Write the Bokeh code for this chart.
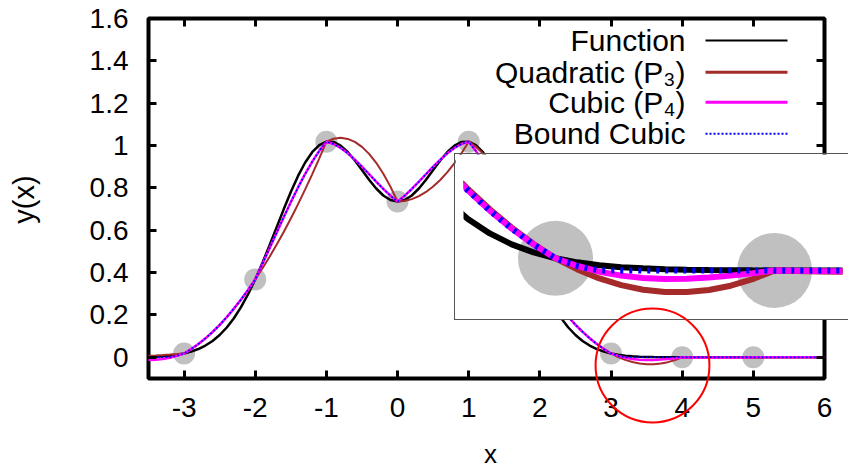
from math import pi
from bokeh.plotting import figure
from bokeh.models import Range1d, FixedTicker, LinearAxis, Label, Arrow, ColumnDataSource
from bokeh.embed import file_html
from bokeh.resources import INLINE

# ---------------- data ----------------
x_values = [-3.6, -3.5, -3.4, -3.3, -3.2, -3.1,
            -3.0, -2.9, -2.8, -2.7, -2.6, -2.5, -2.4, -2.3, -2.2, -2.1,
            -2.0, -1.9, -1.8, -1.7, -1.6, -1.5, -1.4, -1.3, -1.2, -1.1,
            -1.0, -0.9, -0.8, -0.7, -0.6, -0.5, -0.4, -0.3, -0.2, -0.1,
            0.0, 0.1, 0.2, 0.3, 0.4, 0.5, 0.6, 0.7, 0.8, 0.9,
            1.0, 1.1, 1.2, 1.3, 1.4, 1.5, 1.6, 1.7, 1.8, 1.9,
            2.0, 2.1, 2.2, 2.3, 2.4, 2.5, 2.6, 2.7, 2.8, 2.9,
            3.0, 3.1, 3.2, 3.3, 3.4, 3.5, 3.6, 3.7, 3.8, 3.9,
            4.0, 4.1, 4.2, 4.3, 4.4, 4.5, 4.6, 4.7, 4.8, 4.9,
            5.0, 6.0]

y_function = [0.0012, 0.0019, 0.0032, 0.0050, 0.0079, 0.0122,
              0.0183, 0.0271, 0.0392, 0.0556, 0.0773, 0.1054, 0.1409, 0.1845, 0.2370, 0.2983,
              0.3680, 0.4451, 0.5277, 0.6133, 0.6988, 0.7807, 0.8553, 0.9190, 0.9687, 1.0022,
              1.0183, 1.0171, 1.0000, 0.9695, 0.9294, 0.8842, 0.8385, 0.7972, 0.7642, 0.7431,
              0.7358, 0.7431, 0.7642, 0.7972, 0.8385, 0.8842, 0.9294, 0.9695, 1.0000, 1.0171,
              1.0183, 1.0022, 0.9687, 0.9190, 0.8553, 0.7807, 0.6988, 0.6133, 0.5277, 0.4451,
              0.3680, 0.2983, 0.2370, 0.1845, 0.1409, 0.1054, 0.0773, 0.0556, 0.0392, 0.0271,
              0.0183, 0.0122, 0.0079, 0.0050, 0.0032, 0.0019, 0.0012, 0.0007, 0.0004, 0.0002,
              0.0001, 0.0001, 0.0, 0.0, 0.0, 0.0, 0.0, 0.0, 0.0, 0.0,
              0.0, 0.0]

y_quadratic = [0.0052, 0.0069, 0.0088, 0.0109, 0.0132, 0.0157,
               0.0183, 0.0384, 0.0617, 0.0884, 0.1184, 0.1517, 0.1883, 0.2283, 0.2715, 0.3181,
               0.3680, 0.4195, 0.4740, 0.5315, 0.5921, 0.6556, 0.7221, 0.7917, 0.8642, 0.9397,
               1.0183, 1.0320, 1.0364, 1.0315, 1.0172, 0.9937, 0.9607, 0.9185, 0.8669, 0.8060,
               0.7358, 0.7386, 0.7471, 0.7612, 0.7810, 0.8064, 0.8375, 0.8742, 0.9166, 0.9646,
               1.0183, 0.9953, 0.9629, 0.9212, 0.8701, 0.8098, 0.7401, 0.6610, 0.5727, 0.4750,
               0.3680, 0.3195, 0.2740, 0.2315, 0.1921, 0.1556, 0.1221, 0.0917, 0.0642, 0.0397,
               0.0183, 0.0016, -0.0119, -0.0220, -0.0288, -0.0322, -0.0324, -0.0293, -0.0228, -0.0130,
               0.0001, -0.0007, -0.0014, -0.0018, -0.0021, -0.0022, -0.0021, -0.0019, -0.0014, -0.0008,
               0.0, 0.0]

y_cubic = [-0.0123, -0.0127, -0.0112, -0.0077, -0.0018, 0.0067,
           0.0183, 0.0389, 0.0627, 0.0898, 0.1201, 0.1536, 0.1903, 0.2301, 0.2730, 0.3190,
           0.3680, 0.4399, 0.5135, 0.5877, 0.6611, 0.7327, 0.8011, 0.8650, 0.9234, 0.9749,
           1.0183, 1.0073, 0.9885, 0.9633, 0.9334, 0.9000, 0.8649, 0.8294, 0.7950, 0.7633,
           0.7358, 0.7633, 0.7950, 0.8294, 0.8649, 0.9000, 0.9334, 0.9633, 0.9885, 1.0073,
           1.0183, 0.9749, 0.9234, 0.8650, 0.8011, 0.7327, 0.6611, 0.5877, 0.5135, 0.4399,
           0.3680, 0.3190, 0.2730, 0.2301, 0.1903, 0.1536, 0.1201, 0.0898, 0.0627, 0.0389,
           0.0183, 0.0067, -0.0018, -0.0077, -0.0112, -0.0127, -0.0123, -0.0106, -0.0077, -0.0041,
           0.0001, -0.0004, -0.0008, -0.0010, -0.0011, -0.0011, -0.0010, -0.0008, -0.0006, -0.0003,
           0.0, 0.0]

y_bound = [0.0001, 0.0001, 0.0001, 0.0001, 0.0001, 0.0067,
           0.0183, 0.0389, 0.0627, 0.0898, 0.1201, 0.1536, 0.1903, 0.2301, 0.2730, 0.3190,
           0.3680, 0.4399, 0.5135, 0.5877, 0.6611, 0.7327, 0.8011, 0.8650, 0.9234, 0.9749,
           1.0183, 1.0073, 0.9885, 0.9633, 0.9334, 0.9000, 0.8649, 0.8294, 0.7950, 0.7633,
           0.7358, 0.7633, 0.7950, 0.8294, 0.8649, 0.9000, 0.9334, 0.9633, 0.9885, 1.0073,
           1.0183, 0.9749, 0.9234, 0.8650, 0.8011, 0.7327, 0.6611, 0.5877, 0.5135, 0.4399,
           0.3680, 0.3190, 0.2730, 0.2301, 0.1903, 0.1536, 0.1201, 0.0898, 0.0627, 0.0389,
           0.0183, 0.0067, 0.0001, 0.0001, 0.0001, 0.0001, 0.0001, 0.0001, 0.0001, 0.0001,
           0.0001, 0.0, 0.0, 0.0, 0.0, 0.0, 0.0, 0.0, 0.0, 0.0,
           0.0, 0.0]

node_x = [-3, -2, -1, 0, 1, 2, 3, 4, 5]
node_y = [0.0183, 0.3680, 1.0183, 0.7358, 1.0183, 0.3680, 0.0183, 0.0001, 0.0]

x_ticks = [-3, -2, -1, 0, 1, 2, 3, 4, 5, 6]
x_tick_labels = ["-3", "-2", "-1", "0", "1", "2", "3", "4", "5", "6"]
y_ticks = [0, 0.2, 0.4, 0.6, 0.8, 1, 1.2, 1.4, 1.6]
y_tick_labels = ["0", "0.2", "0.4", "0.6", "0.8", "1", "1.2", "1.4", "1.6"]

series_labels = ["Function", "Quadratic (P\u2083)", "Cubic (P\u2084)", "Bound Cubic"]

# ---------------- styling / layout constants ----------------
FONT = "Liberation Sans"
W, H = 849, 468
FL, FR, FT, FB = 148, 824, 18, 378          # main frame edges (px)
X0, X1, Y0, Y1 = -3.5, 6.0, -0.1, 1.6


def px2x(px):
    return X0 + (px - FL) * (X1 - X0) / (FR - FL)


def py2y(py):
    return Y0 + (FB - py) * (Y1 - Y0) / (FB - FT)


GRAY = "#c0c0c0"
colors = ["#000000", "#a52a2a", "#ff00ff", "#0000ff"]
main_widths = [2.5, 2.0, 2.5, 1.5]
main_dash = ["solid", "solid", "solid", "2 2"]
inset_widths = [6, 6, 6, 6]
inset_dash = ["solid", "solid", "solid", "3 6"]
legend_widths = [2, 3, 3, 2]
cols = ["f", "q", "c", "b"]

src = ColumnDataSource(dict(x=x_values, f=y_function, q=y_quadratic, c=y_cubic, b=y_bound))

# ---------------- main figure ----------------
p = figure(width=W, height=H, x_range=Range1d(X0, X1), y_range=Range1d(Y0, Y1),
           output_backend="svg", toolbar_location=None,
           min_border_left=FL, min_border_right=W - FR,
           min_border_top=FT, min_border_bottom=H - FB,
           background_fill_color="white", border_fill_color="white",
           outline_line_color="black", outline_line_width=4)
p.grid.visible = False

xa = p.xaxis[0]
ya = p.yaxis[0]
xa.ticker = FixedTicker(ticks=x_ticks)
xa.major_label_overrides = dict(zip(x_ticks, x_tick_labels))
ya.ticker = FixedTicker(ticks=y_ticks)
ya.major_label_overrides = dict(zip(y_ticks, y_tick_labels))
for ax in (xa, ya):
    ax.axis_line_color = None
    ax.major_tick_in = 8
    ax.major_tick_out = 0
    ax.major_tick_line_width = 3
    ax.major_tick_line_color = "black"
    ax.minor_tick_line_color = None
    ax.major_label_text_font = FONT
    ax.major_label_text_color = "black"
xa.major_label_text_font_size = "28px"
ya.major_label_text_font_size = "28px"
xa.major_label_standoff = 19
ya.major_label_standoff = 20

for loc, tks in (("above", x_ticks), ("right", y_ticks)):
    mirror = LinearAxis(ticker=FixedTicker(ticks=tks), axis_line_color=None,
                        major_tick_in=8, major_tick_out=0, major_tick_line_width=3,
                        minor_tick_line_color=None, major_label_text_font_size="1px",
                        major_label_text_color=None, major_label_standoff=0)
    p.add_layout(mirror, loc)

p.scatter(node_x, node_y, size=22, fill_color=GRAY, line_color=None)
for col, c, w, d in zip(cols, colors, main_widths, main_dash):
    p.line("x", col, source=src, line_color=c, line_width=w, line_dash=d)

# legend (text on the left, sample on the right)
row_py = [40, 71.7, 101.7, 133.3]
for lab, c, w, d, py in zip(series_labels, colors, legend_widths, main_dash, row_py):
    p.add_layout(Label(x=px2x(685), y=py2y(py), text=lab, text_font=FONT,
                       text_font_size="30px", text_align="right",
                       text_baseline="middle", text_color="black"))
    p.add_layout(Arrow(end=None, x_start=px2x(705), y_start=py2y(py),
                       x_end=px2x(787), y_end=py2y(py),
                       line_color=c, line_width=w, line_dash=d))

# ---------------- inset (zoom of the red circle) ----------------
ins = figure(width=394, height=167, x_range=Range1d(2.58, 4.31),
             y_range=Range1d(-0.0765, 0.1739),
             output_backend="svg", toolbar_location=None,
             x_axis_type=None, y_axis_type=None,
             min_border_left=8, min_border_right=7, min_border_top=0, min_border_bottom=0,
             outline_line_color=None, background_fill_color="white",
             border_fill_color="white",
             styles={"position": "absolute", "left": "454px", "top": "153px",
                     "border-top": "1px solid #555555",
                     "border-left": "1px solid #555555",
                     "border-bottom": "1px solid #555555"})
ins.grid.visible = False
ins.scatter(node_x, node_y, size=75, fill_color=GRAY, line_color=None)
for col, c, w, d in zip(cols, colors, inset_widths, inset_dash):
    ins.line("x", col, source=src, line_color=c, line_width=w, line_dash=d)

# ---------------- overlay: red circle (above the inset) and axis titles ----------------
ov = figure(width=W, height=H, x_range=Range1d(px2x(0), px2x(W)),
            y_range=Range1d(py2y(H), py2y(0)),
            output_backend="svg", toolbar_location=None,
            x_axis_type=None, y_axis_type=None,
            min_border_left=0, min_border_right=0, min_border_top=0, min_border_bottom=0,
            outline_line_color=None, background_fill_color=None, border_fill_color=None,
            styles={"position": "absolute", "left": "0px", "top": "0px"})
ov.grid.visible = False
ov.circle(x=[px2x(652)], y=[py2y(365)], radius=0.8, radius_dimension="x",
          fill_color=None, line_color="#ff0000", line_width=2)
ov.add_layout(Label(x=px2x(490), y=py2y(453), text="x", text_font=FONT,
                    text_font_size="26px", text_align="center",
                    text_baseline="middle", text_color="black"))
ov.add_layout(Label(x=px2x(23), y=py2y(199), text="y(x)", text_font=FONT,
                    text_font_size="29px", text_align="center", angle=pi / 2,
                    text_baseline="middle", text_color="black"))

open("out.html", "w").write(file_html([p, ins, ov], INLINE))
